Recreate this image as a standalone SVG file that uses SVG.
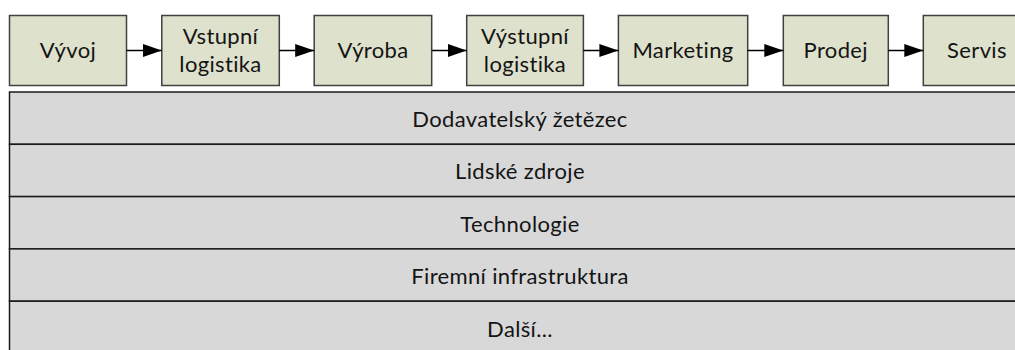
<svg xmlns="http://www.w3.org/2000/svg" width="1015" height="350" viewBox="0 0 1015 350">
<style>
.box{fill:#dee1cb;stroke:#404040;stroke-width:1.5}
.band{fill:#d8d8d8;stroke:#1a1a1a;stroke-width:1.5}
.t{font-family:Lato,"Liberation Sans",sans-serif;font-size:22px;letter-spacing:0.35px;fill:#141414;text-anchor:middle}
.c{stroke:#000;stroke-width:1.5;fill:none}
</style>
<defs>
<marker id="ah" markerUnits="userSpaceOnUse" markerWidth="20" markerHeight="14" refX="19" refY="6.5" orient="auto">
<path d="M0,0 L19,6.5 L0,13 Z" fill="#000"/>
</marker>
</defs>
<rect width="1015" height="350" fill="#fff"/>
<g id="band1"><rect class="band" x="9.5" y="92" width="1030" height="52.3"/><text class="t" x="520" y="127">Dodavatelský žetězec</text></g>
<g id="band2"><rect class="band" x="9.5" y="144.3" width="1030" height="52.3"/><text class="t" x="520" y="179">Lidské zdroje</text></g>
<g id="band3"><rect class="band" x="9.5" y="196.6" width="1030" height="52.3"/><text class="t" x="520" y="231.5">Technologie</text></g>
<g id="band4"><rect class="band" x="9.5" y="248.9" width="1030" height="52.3"/><text class="t" x="520" y="284">Firemní infrastruktura</text></g>
<g id="band5"><rect class="band" x="9.5" y="301.2" width="1030" height="52.3"/><text class="t" x="520" y="336.5">Další...</text></g>
<g id="n1"><rect class="box" x="9.5" y="15.5" width="117" height="70"/><text class="t" x="68" y="57.5">Vývoj</text></g>
<g id="n2"><rect class="box" x="161.8" y="15.5" width="117.5" height="70"/><text class="t" x="220.5" y="43.5">Vstupní</text><text class="t" x="220.5" y="72">logistika</text></g>
<g id="n3"><rect class="box" x="314.2" y="15.5" width="117.5" height="70"/><text class="t" x="373" y="57.5">Výroba</text></g>
<g id="n4"><rect class="box" x="466.7" y="15.5" width="116.7" height="70"/><text class="t" x="525" y="43.5">Výstupní</text><text class="t" x="525" y="72">logistika</text></g>
<g id="n5"><rect class="box" x="618.4" y="15.5" width="129.3" height="70"/><text class="t" x="683" y="57.5">Marketing</text></g>
<g id="n6"><rect class="box" x="783.3" y="15.5" width="105" height="70"/><text class="t" x="835.8" y="57.5">Prodej</text></g>
<g id="n7"><rect class="box" x="923.3" y="15.5" width="107.5" height="70"/><text class="t" x="977" y="57.5">Servis</text></g>
<g id="connectors">
<line class="c" x1="126.5" y1="50.5" x2="161.8" y2="50.5" marker-end="url(#ah)"/>
<line class="c" x1="279.3" y1="50.5" x2="314.2" y2="50.5" marker-end="url(#ah)"/>
<line class="c" x1="431.7" y1="50.5" x2="466.7" y2="50.5" marker-end="url(#ah)"/>
<line class="c" x1="583.4" y1="50.5" x2="618.4" y2="50.5" marker-end="url(#ah)"/>
<line class="c" x1="747.7" y1="50.5" x2="783.3" y2="50.5" marker-end="url(#ah)"/>
<line class="c" x1="888.3" y1="50.5" x2="923.3" y2="50.5" marker-end="url(#ah)"/>
</g>
</svg>
